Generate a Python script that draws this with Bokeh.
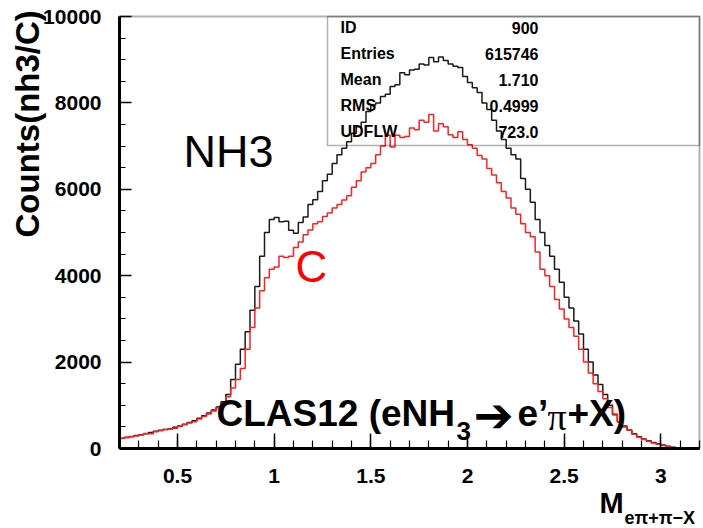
import math
from bokeh.plotting import figure
from bokeh.models import (Label, BoxAnnotation, SingleIntervalTicker,
                          NumeralTickFormatter, LinearAxis, Range1d)
from bokeh.embed import file_html
from bokeh.resources import INLINE

# ---------------- data ----------------
bin_low = 0.2
bin_width = 0.025
x_lim = (0.2, 3.2)
y_lim = (0, 10000)

nh3_counts = [
    240, 260, 280, 300, 320, 340, 370, 400, 420, 440,
    460, 490, 520, 560, 600, 640, 700, 760, 820, 890,
    960, 1080, 1250, 1600, 1950, 2300, 2700, 3200, 3750, 4450,
    5000, 5300, 5350, 5250, 5260, 5050, 4980, 5230, 5360, 5650,
    5760, 5950, 6200, 6350, 6600, 6800, 6950, 7100, 7300, 7450,
    7550, 7800, 7950, 8000, 8150, 8200, 8380, 8420, 8700, 8650,
    8760, 8780, 8900, 8880, 9050, 8950, 9060, 8980, 8900, 8850,
    8820, 8610, 8470, 8350, 8240, 8000, 7850, 7600, 7350, 7150,
    6950, 6800, 6700, 6250, 6000, 5700, 5300, 5000, 4700, 4450,
    4150, 3850, 3500, 3250, 2950, 2650, 2300, 2000, 1700, 1480,
    1250, 1000, 780, 620, 520, 430, 340, 270, 220, 180,
    140, 110, 80, 50, 30, 15, 5, 0, 0, 0,
]

c_counts = [
    230, 250, 270, 290, 310, 350, 340, 390, 410, 440,
    450, 470, 510, 550, 590, 620, 680, 740, 800, 870,
    940, 1050, 1200, 1400, 1600, 1850, 2300, 2800, 3250, 3650,
    3950, 4150, 4200, 4450, 4420, 4450, 4650, 4780, 4950, 5060,
    5200, 5250, 5370, 5450, 5570, 5650, 5750, 5850, 6050, 6200,
    6400, 6500, 6600, 6800, 7000, 7250, 6980, 7250, 7200, 7220,
    7420, 7380, 7600, 7550, 7730, 7350, 7520, 7450, 7260, 7200,
    7330, 7150, 7030, 6950, 6780, 6700, 6480, 6330, 6150, 5950,
    5800, 5570, 5420, 5200, 5000, 4900, 4550, 4150, 4000, 3750,
    3450, 3230, 3000, 2800, 2600, 2300, 2000, 1750, 1500, 1320,
    1150, 950, 800, 620, 500, 420, 330, 260, 210, 170,
    130, 100, 70, 45, 25, 15, 5, 0, 0, 0,
]

stats_labels = ["ID", "Entries", "Mean", "RMS", "UDFLW"]
stats_values = ["900", "615746", "1.710", "0.4999", "723.0"]

y_label = "Counts(nh3/C)"
x_label_main = "M"
x_label_sub = "eπ+π−X"
nh3_tag = "NH3"
c_tag = "C"

# ---------------- layout helpers (pixel -> data) ----------------
W, H = 703, 528
FL, FR, FT, FB = 119, 699, 16, 448   # where the data box sits on the page


def dx(px):
    return x_lim[0] + (px - FL) * (x_lim[1] - x_lim[0]) / (FR - FL)


def dy(py):
    return y_lim[0] + (FB - py) * (y_lim[1] - y_lim[0]) / (FB - FT)


FONT = "Liberation Sans"

# the frame fills the whole canvas; axes are pinned at the data box edges
p = figure(width=W, height=H, title=None,
           x_range=Range1d(dx(0), dx(W)), y_range=Range1d(dy(H), dy(0)),
           x_axis_type=None, y_axis_type=None,
           output_backend="svg", toolbar_location=None,
           min_border_left=0, min_border_right=0,
           min_border_top=0, min_border_bottom=0)
p.grid.visible = False
p.background_fill_color = "white"
p.border_fill_color = "white"
p.outline_line_color = None

xa = LinearAxis(fixed_location=y_lim[0], bounds=x_lim,
                ticker=SingleIntervalTicker(interval=0.5, num_minor_ticks=5),
                formatter=NumeralTickFormatter(format="0.[0]"))
ya = LinearAxis(fixed_location=x_lim[0], bounds=y_lim,
                ticker=SingleIntervalTicker(interval=2000, num_minor_ticks=4))
for ax in (xa, ya):
    ax.axis_line_width = 3
    ax.axis_line_color = "black"
    ax.major_tick_out = 0
    ax.minor_tick_out = 0
    ax.major_tick_line_color = "black"
    ax.minor_tick_line_color = "black"
    ax.major_tick_line_width = 1.5
    ax.minor_tick_line_width = 1.2
    ax.major_label_text_font = FONT
    ax.major_label_text_font_style = "bold"
    ax.major_label_text_font_size = "21px"
    ax.major_label_text_color = "black"
xa.major_tick_in = 15
xa.minor_tick_in = 8
xa.major_label_standoff = 20
ya.major_tick_in = 12
ya.minor_tick_in = 6
ya.major_label_standoff = 18
p.add_layout(xa, "below")
p.add_layout(ya, "left")

# data box outline
p.add_layout(BoxAnnotation(left=x_lim[0], right=x_lim[1], bottom=y_lim[0], top=y_lim[1],
                           fill_alpha=0, line_color="black", line_width=2))

# histograms
edges = [bin_low + i * bin_width for i in range(len(nh3_counts) + 1)]
p.step(x=edges, y=nh3_counts + [nh3_counts[-1]], mode="after",
       line_color="#1a1a1a", line_width=1.5)
p.step(x=edges, y=c_counts + [c_counts[-1]], mode="after",
       line_color="#ff2020", line_width=1.5)

# stats box
p.add_layout(BoxAnnotation(left=dx(327), right=x_lim[1], bottom=dy(145), top=y_lim[1],
                           fill_alpha=0, line_color="black", line_width=1.5))
row_y = [27, 53, 79, 105, 131]
for lab, val, ry in zip(stats_labels, stats_values, row_y):
    p.add_layout(Label(x=dx(340), y=dy(ry), text=lab, text_align="left",
                       text_baseline="middle", text_font=FONT,
                       text_font_style="bold", text_font_size="16px",
                       text_color="black"))
    p.add_layout(Label(x=dx(538), y=dy(ry), text=val, text_align="right",
                       text_baseline="middle", text_font=FONT,
                       text_font_style="bold", text_font_size="16px",
                       text_color="black"))


def put(text, px, py, size, bold=True, color="black", font=FONT, align="left", angle=0):
    p.add_layout(Label(x=dx(px), y=dy(py), text=text, text_align=align,
                       text_baseline="middle", text_font=font,
                       text_font_style="bold" if bold else "normal",
                       text_font_size=size, text_color=color, angle=angle))


# axis titles
put(y_label, 27, 237, "33px", angle=math.pi / 2)
put(x_label_main, 599, 502, "29px")
put(x_label_sub, 624, 517, "18px")

# in-plot tags
put(nh3_tag, 183, 151, "45px", bold=False)
put(c_tag, 295, 266, "44px", bold=False, color="#ff0000")

# CLAS12 (eNH3 -> e'pi+X)
put("CLAS12 (eNH", 216, 413, "37px")
put("3", 456, 430, "26px")
put("➔", 473, 414, "48px", font="DejaVu Sans")
put("e’", 517, 413, "37px")
put("π", 547, 416, "38px", bold=False, font="Liberation Serif")
put("+X)", 567, 413, "37px")

open("out.html", "w").write(file_html(p, INLINE))
